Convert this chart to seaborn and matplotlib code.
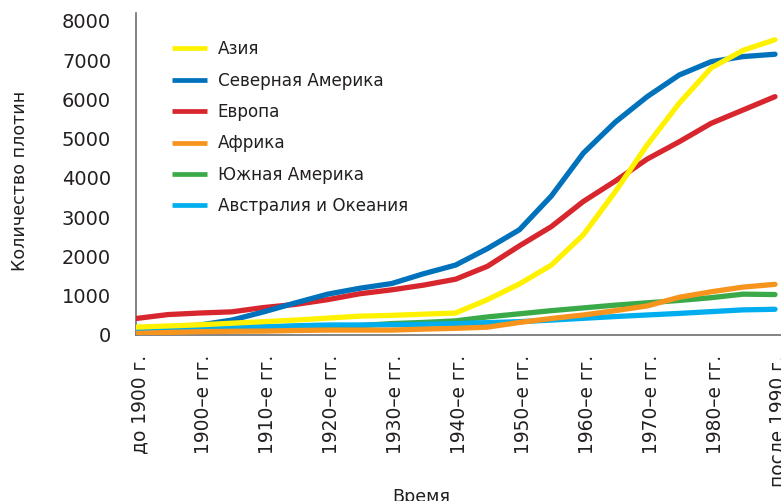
import matplotlib
matplotlib.use("Agg")
import matplotlib.pyplot as plt
import matplotlib.transforms as mtransforms
import seaborn as sns
import pandas as pd

categories = ["до 1900 г.", "1900–е гг.", "1910–е гг.", "1920–е гг.", "1930–е гг.",
              "1940–е гг.", "1950–е гг.", "1960–е гг.", "1970–е гг.", "1980–е гг.",
              "после 1990 г."]
# sample positions (half-decade steps along the category axis)
positions = [0, 0.5, 1, 1.5, 2, 2.5, 3, 3.5, 4, 4.5, 5, 5.5, 6, 6.5, 7, 7.5, 8, 8.5, 9, 9.5, 10]

asia = [200, 230, 260, 300, 340, 380, 430, 480, 500, 530, 560, 900, 1300, 1780, 2550, 3650, 4840, 5900, 6800, 7250, 7520]
north_america = [130, 180, 255, 380, 590, 820, 1040, 1190, 1310, 1560, 1780, 2200, 2680, 3540, 4630, 5420, 6070, 6620, 6960, 7090, 7150]
europe = [420, 520, 560, 590, 700, 780, 900, 1050, 1150, 1270, 1420, 1750, 2270, 2760, 3400, 3920, 4480, 4920, 5390, 5730, 6070]
africa = [40, 65, 85, 95, 100, 115, 125, 125, 125, 150, 170, 200, 320, 420, 510, 620, 740, 960, 1100, 1220, 1290]
south_america = [100, 115, 130, 145, 160, 180, 200, 240, 290, 320, 360, 460, 540, 620, 690, 760, 820, 880, 950, 1040, 1030]
australia = [130, 160, 195, 205, 212, 235, 255, 255, 260, 270, 290, 315, 340, 380, 425, 470, 510, 550, 595, 640, 655]

series_names = ["Азия", "Северная Америка", "Европа", "Африка", "Южная Америка", "Австралия и Океания"]
series_values = [asia, north_america, europe, africa, south_america, australia]
colors = ["#FFF200", "#0072BC", "#D7262D", "#F7941D", "#3AAA49", "#00AEEF"]
palette = dict(zip(series_names, colors))
draw_order = ["Европа", "Северная Америка", "Южная Америка", "Австралия и Океания", "Африка", "Азия"]

rows = []
for name, vals in zip(series_names, series_values):
    for p, v in zip(positions, vals):
        rows.append({"x": p, "value": v, "region": name})
df = pd.DataFrame(rows)

sns.set_style("white")
plt.rcParams['font.family'] = ['DejaVu Sans']
text_color = "#231F20"
axis_color = "#6D6E71"

fig = plt.figure(figsize=(7.81, 5.01), dpi=100)
ax = fig.add_axes([136/781, (501-335)/501, 645/781, 322/501])

for i, name in enumerate(draw_order):
    sns.lineplot(data=df[df["region"] == name], x="x", y="value", color=palette[name],
                 linewidth=3.8, ax=ax, legend=False, zorder=3 + i)

ax.set_xlim(0, 10.094)
ax.set_ylim(0, 8200)
ax.set_xticks(range(len(categories)))
ax.set_xticklabels(categories, rotation=90, ha="center", va="top", fontsize=13.4, color=text_color)
ax.set_yticks(range(0, 8001, 1000))
ax.set_yticklabels([str(v) for v in range(0, 8001, 1000)], fontsize=14, color=text_color)
ax.tick_params(axis="both", direction="out", length=13, width=1.2, color=axis_color)
ax.tick_params(axis="y", pad=5)
ax.tick_params(axis="x", pad=1.5)
offset = mtransforms.ScaledTranslation(4/100, 0, fig.dpi_scale_trans)
for lab in ax.get_xticklabels():
    lab.set_transform(lab.get_transform() + offset)

for s in ["top", "right"]:
    ax.spines[s].set_visible(False)
for s in ["left", "bottom"]:
    ax.spines[s].set_color(axis_color)
    ax.spines[s].set_linewidth(1.2)

ax.set_xlabel("Время", fontsize=12.6, color=text_color)
ax.set_ylabel("Количество плотин", fontsize=12.6, color=text_color)
ax.xaxis.set_label_coords(0.442, -0.474)
ax.yaxis.set_label_coords(-0.166, 0.478)

handles = [plt.Line2D([0], [0], color=c, lw=3.4, solid_capstyle="butt") for c in colors]
leg = ax.legend(handles, series_names, loc="upper left", bbox_to_anchor=(0.0558, 0.915),
                frameon=False, fontsize=12.1, handlelength=2.07, handletextpad=0.655,
                labelspacing=0.795, borderpad=0, borderaxespad=0)
for t in leg.get_texts():
    t.set_color(text_color)

fig.savefig("out.png", dpi=100)
